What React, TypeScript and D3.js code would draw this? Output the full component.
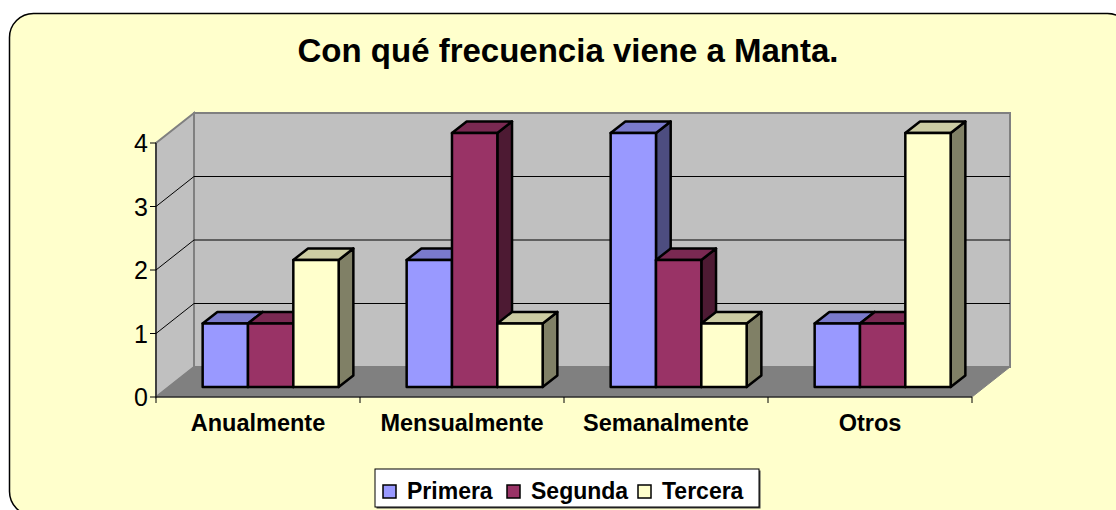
import React from "react";
import * as d3 from "d3";

const categories = ["Anualmente", "Mensualmente", "Semanalmente", "Otros"];
const seriesNames = ["Primera", "Segunda", "Tercera"];
const primera = [1, 2, 4, 1];
const segunda = [1, 4, 2, 1];
const tercera = [2, 1, 1, 4];
const yTicks = [0, 1, 2, 3, 4];
const title = "Con qué frecuencia viene a Manta.";

const seriesValues = [primera, segunda, tercera];
const frontColors = ["#9999FF", "#993366", "#FFFFCC"];
const topColors = ["#7A7ACC", "#7A2952", "#CCCCA3"];
const sideColors = ["#4D4D80", "#4D1A33", "#808066"];

const FONT = "'Liberation Sans', Arial, Helvetica, sans-serif";

export default function App() {
  const W = 1116, H = 510;
  const x0 = 156, x1 = 972;
  const DX = 38, DY = 30;
  const f0 = 0.333, f1 = 0.72;
  const y = d3.scaleLinear().domain([0, 4]).range([397, 143]);
  const xb = d3.scaleBand<string>().domain(categories).range([x0, x1]).paddingInner(0).paddingOuter(0);
  const bw = xb.bandwidth();
  const gapHalf = bw * 1.5 / 4.5 / 2;
  const xs = d3.scaleBand<string>().domain(seriesNames).range([gapHalf, bw - gapHalf]);

  const P = (x: number, v: number, f: number): [number, number] => [x + f * DX, y(v) - f * DY];
  const poly = (pts: [number, number][]) => pts.map(p => p.join(",")).join(" ");

  const yTop = y(4);
  const yBot = y(0);

  const bars: React.ReactNode[] = [];
  categories.forEach((c, ci) => {
    seriesNames.forEach((s, si) => {
      const v = seriesValues[si][ci];
      const a = (xb(c) as number) + (xs(s) as number);
      const b = a + xs.bandwidth();
      const front = [P(a, 0, f0), P(b, 0, f0), P(b, v, f0), P(a, v, f0)];
      const top = [P(a, v, f0), P(b, v, f0), P(b, v, f1), P(a, v, f1)];
      const side = [P(b, 0, f0), P(b, v, f0), P(b, v, f1), P(b, 0, f1)];
      bars.push(
        <g key={c + s} stroke="#000" strokeWidth={2.5} strokeLinejoin="round">
          <polygon points={poly(side)} fill={sideColors[si]} />
          <polygon points={poly(top)} fill={topColors[si]} />
          <polygon points={poly(front)} fill={frontColors[si]} />
        </g>
      );
    });
  });

  const legendX = 375, legendY = 469, legendW = 384, legendH = 38;
  const legendItemX = [383, 507, 638];

  return (
    <svg width={W} height={H} style={{ position: "absolute", left: 0, top: 0 }} fontFamily={FONT}>
      <rect x={0} y={0} width={W} height={H} fill="#fff" />
      <rect x={9.5} y={13.5} width={1122} height={502} rx={24} ry={24} fill="#FFFFCC" stroke="#000" strokeWidth={1.5} />
      <text x={568} y={62} textAnchor="middle" fontSize={33} fontWeight="bold">{title}</text>

      {/* walls */}
      <polygon points={poly([[x0, yBot], [x0 + DX, yBot - DY], [x0 + DX, yTop - DY], [x0, yTop]])} fill="#C0C0C0" stroke="#808080" strokeWidth={2} />
      <polygon points={poly([[x0 + DX, yBot - DY], [x1 + DX, yBot - DY], [x1 + DX, yTop - DY], [x0 + DX, yTop - DY]])} fill="#C0C0C0" stroke="#808080" strokeWidth={2} />
      <polygon points={poly([[x0, yBot], [x1, yBot], [x1 + DX, yBot - DY], [x0 + DX, yBot - DY]])} fill="#808080" stroke="#808080" strokeWidth={1} />

      {/* gridlines */}
      {yTicks.filter(t => t > 0 && t < 4).map(t => (
        <g key={"g" + t} stroke="#000" strokeWidth={1}>
          <line x1={x0} y1={y(t)} x2={x0 + DX} y2={y(t) - DY} />
          <line x1={x0 + DX} y1={y(t) - DY} x2={x1 + DX} y2={y(t) - DY} />
        </g>
      ))}

      {bars}

      {/* value axis */}
      <line x1={x0} y1={yTop} x2={x0} y2={yBot} stroke="#000" strokeWidth={1} />
      {yTicks.map(t => (
        <g key={"t" + t}>
          <line x1={x0 - 6} y1={y(t)} x2={x0} y2={y(t)} stroke="#000" strokeWidth={1} />
          <text x={x0 - 8} y={y(t) + 9} textAnchor="end" fontSize={25}>{t}</text>
        </g>
      ))}

      {/* category axis */}
      <line x1={x0} y1={yBot} x2={x1} y2={yBot} stroke="#000" strokeWidth={1} />
      {d3.range(categories.length + 1).map(i => (
        <line key={"ct" + i} x1={x0 + i * bw} y1={yBot} x2={x0 + i * bw} y2={yBot + 6} stroke="#000" strokeWidth={1} />
      ))}
      {categories.map(c => (
        <text key={"cl" + c} x={(xb(c) as number) + bw / 2} y={431} textAnchor="middle" fontSize={23.5} fontWeight="bold">{c}</text>
      ))}

      {/* legend */}
      <rect x={legendX + 1.5} y={legendY + 1.5} width={legendW} height={legendH} fill="#404040" />
      <rect x={legendX} y={legendY} width={legendW} height={legendH} fill="#fff" stroke="#000" strokeWidth={1} />
      {seriesNames.map((s, i) => (
        <g key={"l" + s}>
          <rect x={legendItemX[i]} y={485} width={13} height={13} fill={frontColors[i]} stroke="#000" strokeWidth={1.5} />
          <text x={legendItemX[i] + 24} y={499} fontSize={23} fontWeight="bold">{s}</text>
        </g>
      ))}
    </svg>
  );
}
